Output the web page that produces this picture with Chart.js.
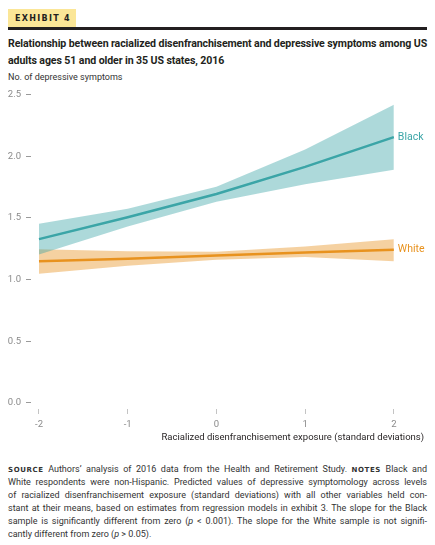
<!DOCTYPE html>
<html>
<head>
<meta charset="utf-8">
<script src="https://cdn.jsdelivr.net/npm/chart.js@4"></script>
<style>
  body { margin: 0; width: 435px; height: 545px; background: #fff; position: relative; overflow: hidden; font-family: Roboto, "Open Sans", sans-serif; color: #231f20; }
  .abs { position: absolute; }
  #exhibit { left: 8px; top: 9px; width: 68px; height: 18px; background: #fbe697; font: bold 8px "DejaVu Sans", sans-serif; letter-spacing: 1.3px; line-height: 19px; padding-left: 7px; box-sizing: border-box; }
  #rule { left: 8px; top: 27px; width: 419px; height: 3px; background: #231f20; }
  #title { left: 8px; top: 36px; width: 425px; font-weight: bold; font-size: 10.6px; line-height: 16.5px; letter-spacing: -0.1px; white-space: nowrap; }
  #ylab { left: 8px; top: 72px; font-size: 9px; color: #333; }
  #notes { left: 8px; top: 463px; width: 419px; font-size: 9px; line-height: 13px; color: #333; }
  #notes div { text-align: justify; text-align-last: justify; white-space: nowrap; }
  #notes div.last { text-align-last: left; }
  .sc { font: bold 7px "DejaVu Sans", sans-serif; letter-spacing: 0.6px; }
  #chart { left: 0; top: 84px; }
</style>
</head>
<body>
<div id="exhibit" class="abs">EXHIBIT 4</div>
<div id="rule" class="abs"></div>
<div id="title" class="abs">Relationship between racialized disenfranchisement and depressive symptoms among US<br>adults ages 51 and older in 35 US states, 2016</div>
<div id="ylab" class="abs">No. of depressive symptoms</div>
<canvas id="chart" class="abs" width="435" height="366"></canvas>
<div id="notes" class="abs">
  <div><span class="sc">SOURCE</span> Authors’ analysis of 2016 data from the Health and Retirement Study. <span class="sc">NOTES</span> Black and</div>
  <div>White respondents were non-Hispanic. Predicted values of depressive symptomology across levels</div>
  <div>of racialized disenfranchisement exposure (standard deviations) with all other variables held con-</div>
  <div>stant at their means, based on estimates from regression models in exhibit 3. The slope for the Black</div>
  <div>sample is significantly different from zero (<i>p</i> &lt; 0.001). The slope for the White sample is not signifi-</div>
  <div class="last">cantly different from zero (<i>p</i> &gt; 0.05).</div>
</div>
<script>
const exposure = [-2, -1, 0, 1, 2];

const blackMean  = [1.328, 1.505, 1.694, 1.914, 2.156];
const blackUpper = [1.452, 1.575, 1.753, 2.056, 2.419];
const blackLower = [1.204, 1.430, 1.632, 1.774, 1.892];

const whiteMean  = [1.148, 1.170, 1.195, 1.220, 1.242];
const whiteUpper = [1.247, 1.229, 1.226, 1.269, 1.328];
const whiteLower = [1.048, 1.113, 1.161, 1.183, 1.148];

const yTicks = [0, 0.5, 1.0, 1.5, 2.0, 2.5];
const xTicks = [-2, -1, 0, 1, 2];

const teal = '#3ba5a7';
const orange = '#e8921e';

const pts = (ys) => exposure.map((x, i) => ({ x: x, y: ys[i] }));

// group names at the line ends
const endLabels = {
    id: 'endLabels',
    afterDatasetsDraw(chart) {
        const { ctx, scales: { x, y } } = chart;
        const last = exposure.length - 1;
        ctx.save();
        ctx.font = '10.5px Roboto';
        ctx.textBaseline = 'middle';
        ctx.textAlign = 'left';
        ctx.fillStyle = teal;
        ctx.fillText('Black', x.getPixelForValue(exposure[last]) + 4, y.getPixelForValue(blackMean[last]));
        ctx.fillStyle = orange;
        ctx.fillText('White', x.getPixelForValue(exposure[last]) + 4, y.getPixelForValue(whiteMean[last]));
        ctx.restore();
    }
};

new Chart(document.getElementById('chart'), {
    type: 'line',
    data: {
        datasets: [
            { data: pts(blackMean), borderColor: teal, borderWidth: 2.5, pointRadius: 0, fill: false },
            { data: pts(whiteMean), borderColor: orange, borderWidth: 2.5, pointRadius: 0, fill: false },
            { data: pts(blackUpper), borderWidth: 0, pointRadius: 0, backgroundColor: 'rgba(59,165,167,0.42)', fill: '+1' },
            { data: pts(blackLower), borderWidth: 0, pointRadius: 0, fill: false },
            { data: pts(whiteUpper), borderWidth: 0, pointRadius: 0, backgroundColor: 'rgba(232,146,30,0.42)', fill: '+1' },
            { data: pts(whiteLower), borderWidth: 0, pointRadius: 0, fill: false }
        ]
    },
    options: {
        responsive: false,
        animation: false,
        layout: { padding: { top: 9, right: 11, left: 0, bottom: 7 } },
        scales: {
            x: {
                type: 'linear',
                min: -2.09,
                max: 2.34,
                afterBuildTicks: (scale) => { scale.ticks = xTicks.map(v => ({ value: v })); },
                afterFit: (scale) => { scale.height = 34; },
                border: { display: false },
                grid: { drawOnChartArea: false, drawTicks: true, tickLength: 5, tickColor: '#c4c4c4' },
                ticks: { color: '#8a8a8a', font: { size: 9.5, family: 'Roboto' }, padding: 5, maxRotation: 0,
                         callback: (v) => String(v) },
                title: { display: true, align: 'end', text: 'Racialized disenfranchisement exposure (standard deviations)',
                         color: '#231f20', font: { size: 9.5, family: 'Roboto' }, padding: { top: 0, bottom: 0 } }
            },
            y: {
                min: -0.05,
                max: 2.5,
                afterBuildTicks: (scale) => { scale.ticks = yTicks.map(v => ({ value: v })); },
                afterFit: (scale) => { scale.width = 31; },
                border: { display: false },
                grid: { drawOnChartArea: false, drawTicks: true, tickLength: 5, tickColor: '#9a9a9a' },
                ticks: { color: '#8a8a8a', font: { size: 9.5, family: 'Roboto' }, padding: 5,
                         callback: (v) => v.toFixed(1) }
            }
        },
        plugins: {
            legend: { display: false },
            tooltip: { enabled: false }
        }
    },
    plugins: [endLabels]
});
</script>
</body>
</html>
